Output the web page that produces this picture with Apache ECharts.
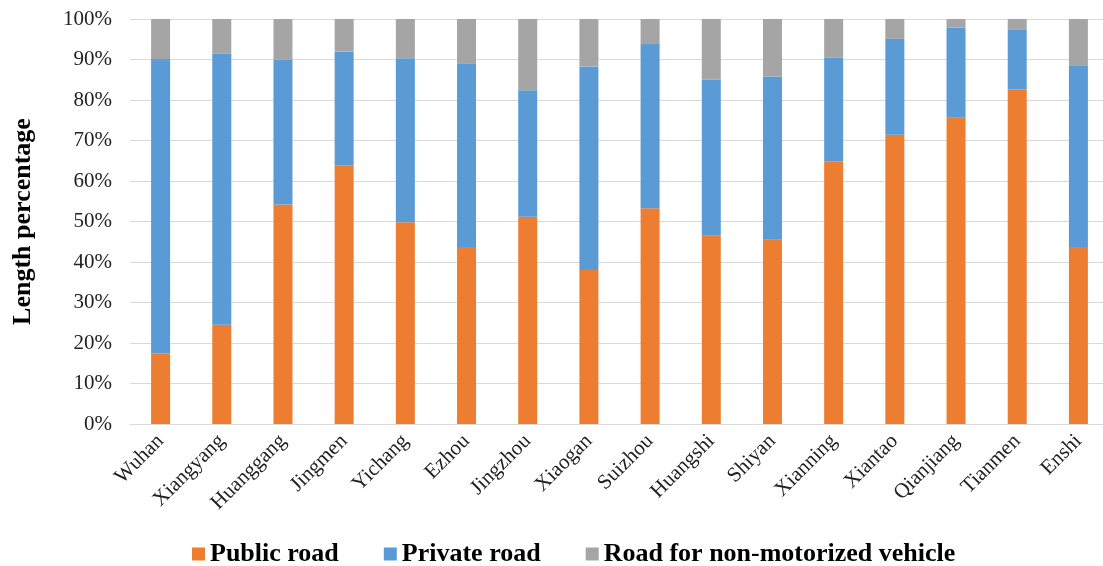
<!DOCTYPE html>
<html><head><meta charset="utf-8">
<script src="https://cdn.jsdelivr.net/npm/echarts@6/dist/echarts.min.js"></script>
<style>html,body{margin:0;padding:0;background:#fff}#c{width:1103px;height:566px}</style>
</head><body><div id="c"></div>
<script>
const categories = ["Wuhan","Xiangyang","Huanggang","Jingmen","Yichang","Ezhou","Jingzhou","Xiaogan","Suizhou","Huangshi","Shiyan","Xianning","Xiantao","Qianjiang","Tianmen","Enshi"];
const publicRoad = [17.4,24.5,54.2,63.9,49.8,43.7,51.2,38.0,53.3,46.5,45.5,64.9,71.4,75.6,82.6,43.7];
const privateRoad = [72.7,66.9,35.8,28.1,40.5,45.2,31.2,50.3,40.5,38.5,40.3,25.5,23.7,22.3,14.9,44.9];
const nonMotorized = [9.9,8.6,10.0,8.0,9.7,11.1,17.6,11.7,6.2,15.0,14.2,9.6,4.9,2.1,2.5,11.4];
const yTicks = [0,10,20,30,40,50,60,70,80,90,100];

const font = "'Liberation Serif','Times New Roman',serif";
const chart = echarts.init(document.getElementById('c'));
function s(name, data, color){
  return {name, type:'bar', stack:'total', data, barWidth:19,
    itemStyle:{color}, emphasis:{disabled:true}};
}
chart.setOption({
  animation:false,
  grid:{left:130, right:-6, top:19, bottom:142, containLabel:false, outerBoundsMode:'none'},
  legend:{bottom:-6, left:187, itemWidth:13, itemHeight:13, itemGap:45, icon:'rect',
    textStyle:{fontFamily:font, fontSize:26, fontWeight:'bold', color:'#000'}},
  xAxis:{type:'category', data:categories,
    axisLine:{lineStyle:{color:'#D9D9D9', width:1}}, axisTick:{show:false},
    axisLabel:{rotate:45, fontFamily:font, fontSize:21, color:'#222', margin:14, interval:0}},
  yAxis:{type:'value', min:yTicks[0], max:yTicks[yTicks.length-1], interval:10,
    name:'Length percentage', nameLocation:'middle', nameGap:94, nameRotate:90,
    nameTextStyle:{fontFamily:font, fontSize:26, fontWeight:'bold', color:'#000'},
    axisLine:{show:false}, axisTick:{show:false},
    splitLine:{lineStyle:{color:'#D9D9D9', width:1}},
    axisLabel:{formatter:'{value}%', fontFamily:font, fontSize:21, color:'#222', margin:18}},
  series:[
    s('Public road', publicRoad, '#ED7D31'),
    s('Private road', privateRoad, '#5B9BD5'),
    s('Road for non-motorized vehicle', nonMotorized, '#A5A5A5')
  ]
});
</script></body></html>
